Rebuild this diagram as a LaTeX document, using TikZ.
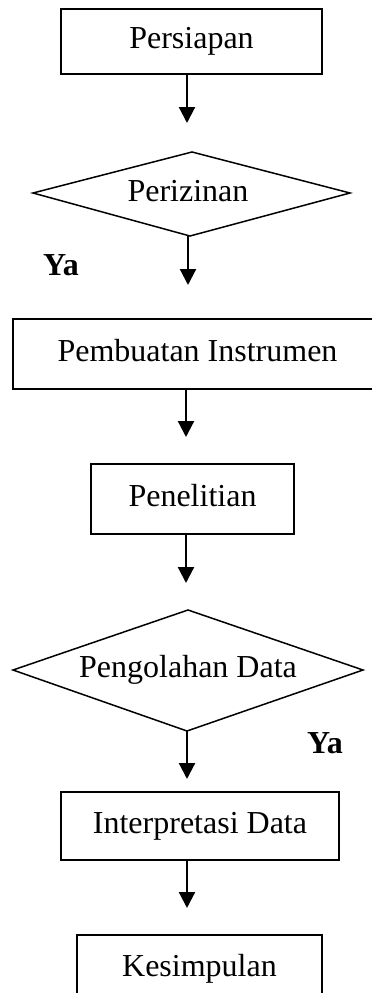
\documentclass[tikz,border=0pt]{standalone}
\usepackage{fontspec}
\setmainfont{Liberation Serif}
\usetikzlibrary{arrows.meta}
\tikzset{
  boxnode/.style={draw, line width=1.5pt, inner sep=0pt, text height=22pt, text depth=8pt,
    font=\fontsize{32}{38}\selectfont},
  txtnode/.style={inner sep=0pt, text height=22pt, text depth=8pt, font=\fontsize{32}{38}\selectfont},
  yanode/.style={inner sep=0pt, anchor=base west, font=\fontsize{32}{38}\selectfont\bfseries},
  dline/.style={draw, line width=1.5pt, line join=miter},
  arr/.style={line width=2.2pt, -{Triangle[width=16pt,length=16pt]}}
}
\begin{document}
\begin{tikzpicture}[x=1pt,y=-1pt]
\useasboundingbox (0,0) rectangle (372,993);
\clip (0,0) rectangle (372,993);
\fill[white] (0,0) rectangle (372,993);

% boxes
\node[boxnode, minimum width=261pt, minimum height=65pt] (b1) at (191.5,41.5) {Persiapan};
\node[boxnode, minimum width=369pt, minimum height=70pt] (b2) at (197.5,354) {Pembuatan Instrumen};
\node[boxnode, minimum width=203pt, minimum height=70pt] (b3) at (192.5,499) {Penelitian};
\node[boxnode, minimum width=278pt, minimum height=68pt] (b4) at (200,826) {Interpretasi Data};
\node[boxnode, minimum width=245pt, minimum height=68pt] (b5) at (199.5,969) {Kesimpulan};

% decision 1
\coordinate (d1t) at (192,152);
\coordinate (d1r) at (350,193);
\coordinate (d1b) at (190,236);
\coordinate (d1l) at (33,193);
\draw[dline] (d1t) -- (d1r) -- (d1b) -- (d1l) -- cycle;
\node[txtnode] (t1) at (188,194) {Perizinan};

% decision 2
\coordinate (d2t) at (188,610);
\coordinate (d2r) at (363,670);
\coordinate (d2b) at (187,731);
\coordinate (d2l) at (13,670);
\draw[dline] (d2t) -- (d2r) -- (d2b) -- (d2l) -- cycle;
\node[txtnode] (t2) at (188,670) {Pengolahan Data};

% arrow end points
\coordinate (a1) at (187,123);
\coordinate (a2) at (188,285);
\coordinate (a3) at (186,437);
\coordinate (a4) at (186,583);
\coordinate (a5) at (187,779);
\coordinate (a6) at (187,908);

\draw[arr] (b1.south -| a1) -- (a1);
\draw[arr] (d1b -| a2) -- (a2);
\draw[arr] (b2.south -| a3) -- (a3);
\draw[arr] (b3.south -| a4) -- (a4);
\draw[arr] (d2b -| a5) -- (a5);
\draw[arr] (b4.south -| a6) -- (a6);

% labels
\node[yanode] (ya1) at (43,275) {Ya};
\node[yanode] (ya2) at (307,753) {Ya};
\end{tikzpicture}
\end{document}
